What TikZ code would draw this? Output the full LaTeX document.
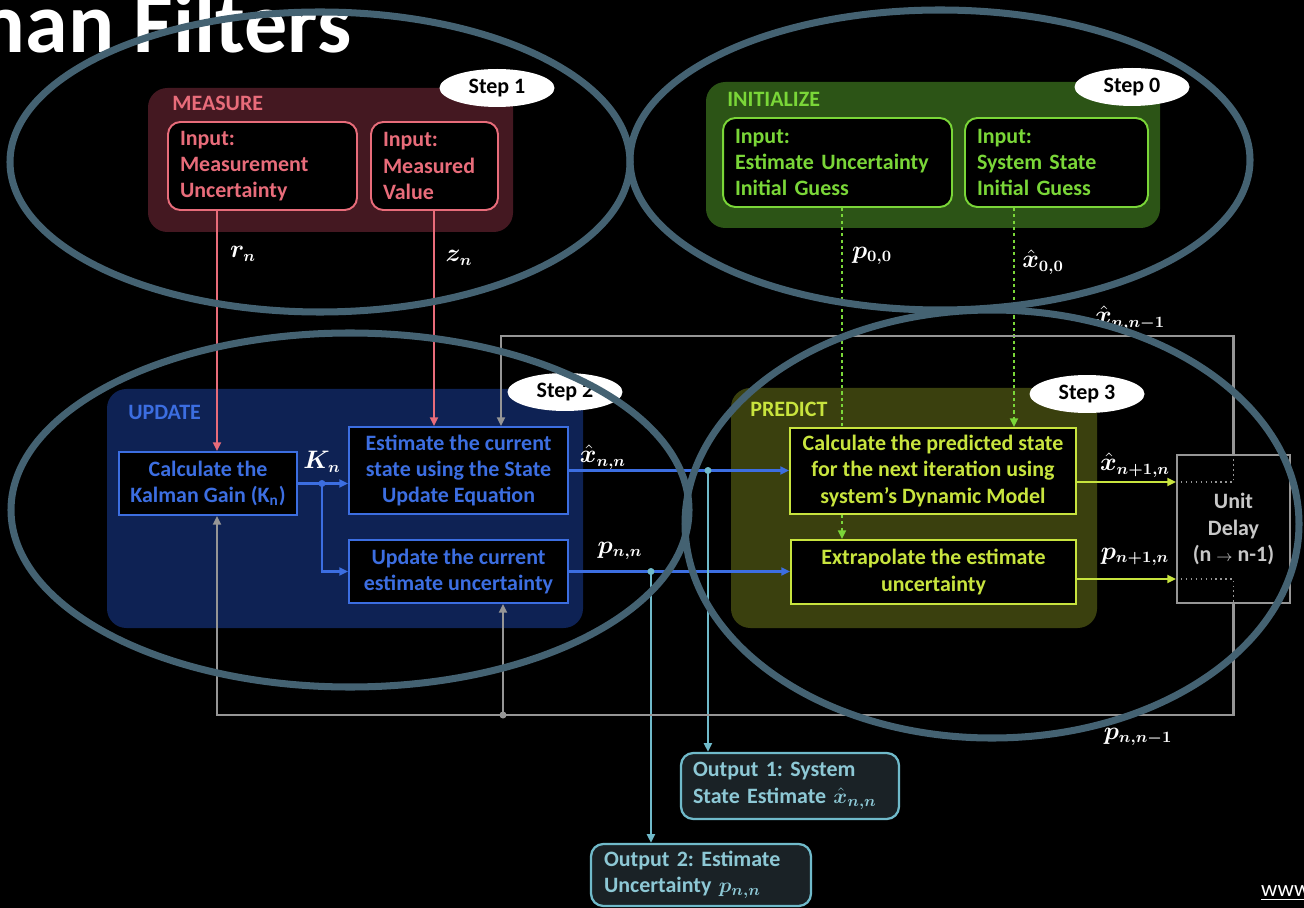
\documentclass[tikz,border=0pt]{standalone}
\usepackage{fontspec}
\setmainfont{Carlito}
\usepackage{amsmath,bm}
\usetikzlibrary{arrows.meta,shapes.geometric}
\frenchspacing

\definecolor{measfill}{RGB}{68,24,33}
\definecolor{measline}{RGB}{232,108,122}
\definecolor{initfill}{RGB}{44,84,22}
\definecolor{initline}{RGB}{122,214,56}
\definecolor{updfill}{RGB}{14,34,84}
\definecolor{updline}{RGB}{60,110,225}
\definecolor{predfill}{RGB}{58,64,14}
\definecolor{predline}{RGB}{200,228,62}
\definecolor{loopgray}{RGB}{150,150,150}
\definecolor{delaytext}{RGB}{200,200,200}
\definecolor{outline}{RGB}{112,186,202}
\definecolor{outfill}{RGB}{26,34,38}
\definecolor{ringcol}{RGB}{68,98,114}

\tikzset{
    txt/.style={font=\fontsize{12.5}{15}\selectfont\bfseries},
    inbox/.style={txt, draw=#1, text=#1, fill=black, line width=1.1pt, rounded corners=7pt, align=left, inner sep=0pt},
    procbox/.style={txt, draw=#1, text=#1, fill=black, line width=1.1pt, align=center, inner sep=0pt},
    outbox/.style={txt, draw=outline, text=outline!80!white, fill=outfill, line width=1.3pt, rounded corners=7pt, align=left, inner sep=0pt},
    paneltitle/.style={txt, text=#1, anchor=base west, inner sep=0pt},
    steplabel/.style={txt, ellipse, fill=white, text=black, minimum width=2.3cm, minimum height=0.76cm, inner sep=0pt},
    sym/.style={text=white, font=\fontsize{13.5}{16}\selectfont, inner sep=0.5pt},
    flow/.style={line width=1.6pt, draw=#1, -{Triangle[length=5pt,width=4.5pt]}},
    initdots/.style={dash pattern=on 1.8pt off 1.8pt},
    ring/.style={draw=ringcol, line width=4pt},
}

\begin{document}
\begin{tikzpicture}[x=0.02cm, y=-0.02cm]
    \useasboundingbox (0,0) rectangle (1304,908);
    \clip (0,0) rectangle (1304,908);
    \fill[black] (0,0) rectangle (1304,908);

    % Title
    \node[anchor=base east, inner sep=0pt, text=white, font=\fontsize{49}{51}\selectfont\bfseries] (title) at (352,53) {Kalman Filters};

    % Panels
    \fill[measfill, rounded corners=11pt] (148,88) rectangle (513,232);
    \fill[initfill, rounded corners=11pt] (706,82) rectangle (1160,228);
    \fill[updfill, rounded corners=11pt] (107,389) rectangle (583,628);
    \fill[predfill, rounded corners=11pt] (731,388) rectangle (1097,628);

    \node[paneltitle=measline] (tmeas) at (172,111) {MEASURE};
    \node[paneltitle=initline] (tinit) at (727,107) {INITIALIZE};
    \node[paneltitle=updline] (tupd) at (128,419) {UPDATE};
    \node[paneltitle=predline] (tpred) at (750,417) {PREDICT};

    % Inputs
    \node[inbox=measline, minimum width=3.78cm, minimum height=1.76cm, text width=3.3cm] (measunc) at (262.5,166)
        {Input:\\Measurement\\Uncertainty};
    \node[inbox=measline, minimum width=2.54cm, minimum height=1.76cm, text width=2.06cm] (measval) at (434.5,166)
        {Input:\\Measured\\Value};
    \node[inbox=initline, minimum width=4.58cm, minimum height=1.78cm, text width=4.1cm] (initunc) at (837.5,162.5)
        {Input:\\Estimate Uncertainty\\Initial Guess};
    \node[inbox=initline, minimum width=3.66cm, minimum height=1.78cm, text width=3.18cm] (initstate) at (1056.5,162.5)
        {Input:\\System State\\Initial Guess};

    % Update and predict
    \node[procbox=updline, minimum width=3.56cm, minimum height=1.26cm] (gain) at (208,483.5)
        {Calculate the\\Kalman Gain (K\textsubscript{n})};
    \node[procbox=updline, minimum width=4.38cm, minimum height=1.74cm] (est) at (458.5,470.5)
        {Estimate the current\\state using the State\\Update Equation};
    \node[procbox=updline, minimum width=4.38cm, minimum height=1.26cm] (unc) at (458.5,571.5)
        {Update the current\\estimate uncertainty};
    \node[procbox=predline, minimum width=5.72cm, minimum height=1.72cm] (pred) at (933,471)
        {Calculate the predicted state\\for the next iteration using\\system’s Dynamic Model};
    \node[procbox=predline, minimum width=5.7cm, minimum height=1.28cm] (extra) at (933.5,572)
        {Extrapolate the estimate\\uncertainty};
    \node[procbox=loopgray, text=delaytext, minimum width=2.26cm, minimum height=2.96cm] (delay) at (1233.5,529)
        {Unit\\Delay\\(n {\small$\rightarrow$} n-1)};

    % Outputs
    \node[outbox, minimum width=4.36cm, minimum height=1.32cm, text width=3.88cm] (out1) at (790,786)
        {Output 1: System\\State Estimate $\bm{\hat{x}_{n,n}}$};
    \node[outbox, minimum width=4.4cm, minimum height=1.24cm, text width=3.88cm] (out2) at (701,875)
        {Output 2: Estimate\\Uncertainty $\bm{p_{n,n}}$};

    % Measurements
    \coordinate (rx) at (217,0);
    \coordinate (zx) at (434,0);
    \draw[flow=measline] (measunc.south -| rx) -- (gain.north -| rx);
    \draw[flow=measline] (measval.south -| zx) -- (est.north -| zx);

    % Initial guesses
    \coordinate (px) at (842,0);
    \coordinate (sx) at (1014,0);
    \draw[initline, line width=1.6pt, initdots] (initunc.south -| px) -- (pred.north -| px);
    \draw[flow=initline, initdots] (pred.south -| px) -- (extra.north -| px);
    \draw[flow=initline, initdots] (initstate.south -| sx) -- (pred.north -| sx);

    % Gain and estimates
    \path (gain.east) ++(24,0) coordinate (kdot);
    \draw[flow=updline] (gain.east) -- (est.west |- gain.east);
    \draw[flow=updline] (kdot) |- (unc.west);
    \fill[updline] (kdot) circle (2pt);
    \draw[flow=updline] (est.east) -- (pred.west |- est.east);
    \draw[flow=updline] (unc.east) -- (extra.west |- unc.east);

    % Outputs taps
    \path (est.east) ++(139,0) coordinate (xtap);
    \path (unc.east) ++(82,0) coordinate (ptap);
    \draw[flow=outline, line width=1.3pt] (xtap) -- (out1.north -| xtap);
    \draw[flow=outline, line width=1.3pt] (ptap) -- (out2.north -| ptap);
    \fill[outline] (xtap) circle (2pt);
    \fill[outline] (ptap) circle (2pt);

    % Into the delay
    \path (delay.west) ++(0,-47) coordinate (xin);
    \path (delay.west) ++(0,50) coordinate (pin);
    \draw[flow=predline] (pred.east |- xin) -- (xin);
    \draw[flow=predline] (extra.east |- pin) -- (pin);
    \draw[loopgray, thick, dotted] (xin) -| (delay.north);
    \draw[loopgray, thick, dotted] (pin) -| (delay.south);

    % Feedback loops
    \coordinate (fbtop) at (501,336);
    \coordinate (fbbot) at (217,715);
    \coordinate (fbtap) at (503,715);
    \draw[flow=loopgray, line width=1.4pt] (delay.north) |- (fbtop) -- (est.north -| fbtop);
    \draw[flow=loopgray, line width=1.4pt] (delay.south) |- (fbbot) -- (gain.south -| fbbot);
    \draw[flow=loopgray, line width=1.4pt] (fbtap) -- (unc.south -| fbtap);
    \fill[loopgray] (fbtap) circle (2pt);

    % Symbols
    \node[sym] (lr) at (243,254) {$\bm{r_n}$};
    \node[sym] (lz) at (459,258) {$\bm{z_n}$};
    \node[sym] (lp0) at (872,256) {$\bm{p_{0,0}}$};
    \node[sym] (lx0) at (1043,262) {$\bm{\hat{x}_{0,0}}$};
    \node[sym] (lxprev) at (1130,318) {$\bm{\hat{x}_{n,n-1}}$};
    \node[sym] (lk) at (322,462) {$\bm{K_n}$};
    \node[sym] (lx) at (603,457) {$\bm{\hat{x}_{n,n}}$};
    \node[sym] (lp) at (620,551) {$\bm{p_{n,n}}$};
    \node[sym] (lxnext) at (1135,465) {$\bm{\hat{x}_{n+1,n}}$};
    \node[sym] (lpnext) at (1135,557) {$\bm{p_{n+1,n}}$};
    \node[sym] (lpprev) at (1138,737) {$\bm{p_{n,n-1}}$};

    % Steps
    \node[steplabel] (step1) at (497,88) {Step 1};
    \node[steplabel] (step0) at (1132,87) {Step 0};
    \node[steplabel] (step2) at (565,392) {Step 2};
    \node[steplabel] (step3) at (1087,394) {Step 3};

    % Rings
    \foreach \cx/\cy/\rx/\ry in {320/162/310/150, 940/160/310/150, 350/510/339/177, 992/524/307/214} {
        \draw[ring] (\cx,\cy) ellipse [x radius=\rx, y radius=\ry];
    }

    \node[anchor=base west, text=white, font=\fontsize{13}{15}\selectfont] (web) at (1255,896) {\underline{www}};
\end{tikzpicture}
\end{document}
